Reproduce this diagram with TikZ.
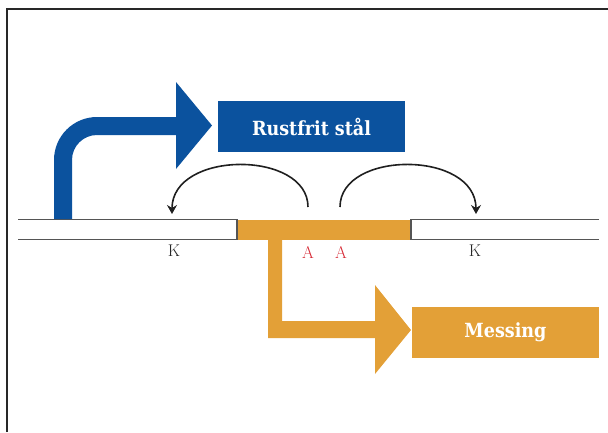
\documentclass[tikz,border=0pt]{standalone}
\usepackage{fontspec}
\usetikzlibrary{arrows.meta}
\newfontfamily\boxfont{DejaVu Serif Condensed}
\definecolor{bluec}{RGB}{11,82,158}
\definecolor{orangec}{RGB}{227,160,55}
\definecolor{pipec}{RGB}{85,85,85}
\definecolor{redc}{RGB}{214,40,52}
\definecolor{framec}{RGB}{40,40,40}
\tikzset{
  labelbox/.style={minimum width=187pt,minimum height=51pt,inner sep=0pt,text=white,font=\boxfont\bfseries\fontsize{19.5}{21}\selectfont},
  pipeline/.style={draw=pipec,line width=1.3pt},
  jump/.style={draw=black!88,line width=1.6pt,-{Stealth[length=9pt,width=10pt,inset=3pt]}},
  klabel/.style={font=\fontsize{17}{18}\selectfont,text=black!85,inner sep=0pt},
  alabel/.style={font=\fontsize{17}{18}\selectfont,text=redc,inner sep=0pt}
}
\begin{document}
\begin{tikzpicture}[x=1pt,y=-1pt]
\useasboundingbox (0,0) rectangle (608,432);
% frame
\draw[framec,line width=1.4pt] (7,432) -- (7,9) -- (608,9);
% orange bar
\fill[orangec] (237,219.5) rectangle (411,239.5);
% pipe
\draw[pipeline] (18,219.5) -- (237,219.5) -- (237,239.5) -- (18,239.5);
\draw[pipeline] (599,219.5) -- (411,219.5) -- (411,239.5) -- (599,239.5);
% blue arrow
\fill[bluec] (54,219) -- (54,160) arc[start angle=180,end angle=270,radius=43] -- (176,117) -- (176,82) -- (212,125.5) -- (176,169) -- (176,135) -- (97,135) arc[start angle=270,end angle=180,radius=25] -- (72,219) -- cycle;
% orange arrow
\fill[orangec] (268,239) -- (268,338) -- (375,338) -- (375,374) -- (411,330) -- (375,285) -- (375,321) -- (282,321) -- (282,239) -- cycle;
% boxes
\node[labelbox,fill=bluec] (steel) at (311.5,126.5) {Rustfrit stål};
\node[labelbox,fill=orangec] (brass) at (505.5,332.5) {Messing};
% jumps
\coordinate (ls) at (308,207);
\coordinate (le) at (172,214);
\coordinate (rs) at (340,207);
\coordinate (re) at (476,214);
\draw[jump] (ls) .. controls (308,150) and (172,150) .. (le);
\draw[jump] (rs) .. controls (340,150) and (476,150) .. (re);
% labels
\node[klabel] (k1) at (174,251) {K};
\node[klabel] (k2) at (475,251) {K};
\node[alabel] (a1) at (308,252) {A};
\node[alabel] (a2) at (341,252) {A};
\end{tikzpicture}
\end{document}
